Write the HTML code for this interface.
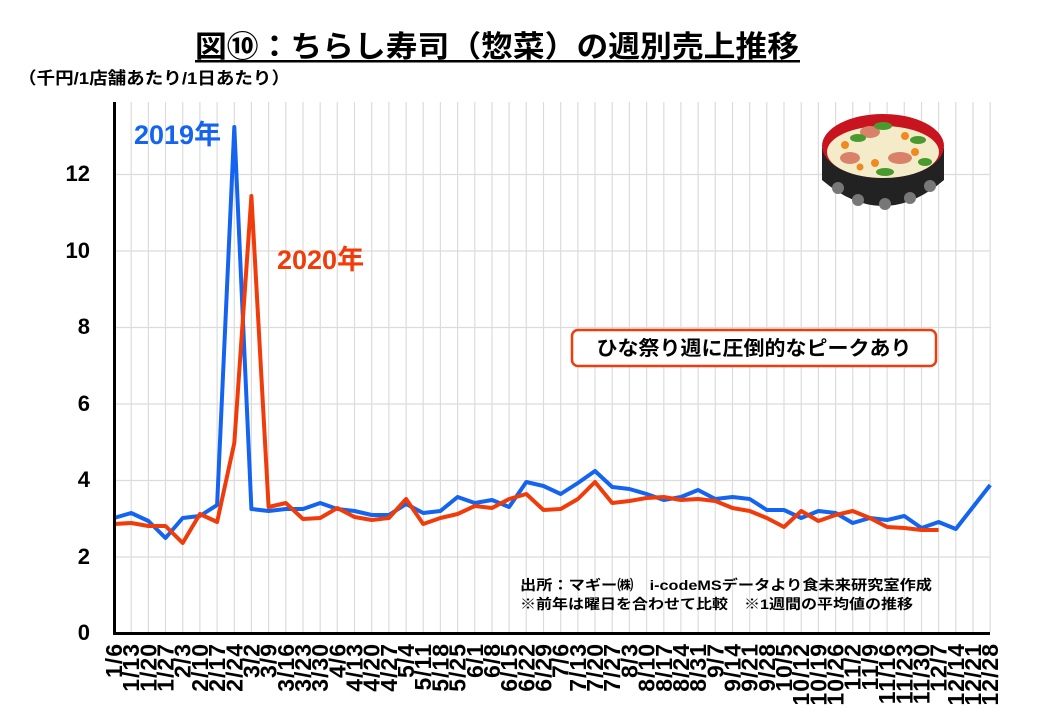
<!DOCTYPE html>
<html><head><meta charset="utf-8"><style>
body{margin:0;background:#fff;}
svg{display:block;font-family:"Liberation Sans","Noto Sans CJK JP",sans-serif;}
</style></head><body>
<svg width="1040" height="720" viewBox="0 0 1040 720" xmlns="http://www.w3.org/2000/svg">
<rect width="1040" height="720" fill="#fff"/>
<text x="497" y="57" font-size="30" font-weight="bold" text-anchor="middle" textLength="604" lengthAdjust="spacingAndGlyphs">図⑩：ちらし寿司（惣菜）の週別売上推移</text>
<rect x="195" y="60" width="605" height="2.5" fill="#000"/>
<text x="18" y="84" font-size="17" font-weight="bold" textLength="272" lengthAdjust="spacingAndGlyphs">（千円/1店舗あたり/1日あたり）</text>
<g stroke="#dcdcdc" stroke-width="1.2">
<path d="M131.2 102V632M148.4 102V632M165.5 102V632M182.7 102V632M199.9 102V632M217.1 102V632M234.3 102V632M251.4 102V632M268.6 102V632M285.8 102V632M303 102V632M320.2 102V632M337.3 102V632M354.5 102V632M371.7 102V632M388.9 102V632M406.1 102V632M423.2 102V632M440.4 102V632M457.6 102V632M474.8 102V632M492 102V632M509.1 102V632M526.3 102V632M543.5 102V632M560.7 102V632M577.9 102V632M595 102V632M612.2 102V632M629.4 102V632M646.6 102V632M663.8 102V632M680.9 102V632M698.1 102V632M715.3 102V632M732.5 102V632M749.7 102V632M766.8 102V632M784 102V632M801.2 102V632M818.4 102V632M835.6 102V632M852.7 102V632M869.9 102V632M887.1 102V632M904.3 102V632M921.5 102V632M938.6 102V632M955.8 102V632M973 102V632M990.2 102V632"/>
<path d="M114 174.5H990M114 251H990M114 327.5H990M114 404H990M114 480.5H990M114 557H990"/>
</g>
<g font-size="22" font-weight="bold" text-anchor="end">
<text x="90" y="640">0</text><text x="90" y="564">2</text><text x="90" y="487">4</text><text x="90" y="411">6</text><text x="90" y="334">8</text><text x="90" y="258">10</text><text x="90" y="181">12</text>
</g>
<g>
<path d="M822 148 L822 180 Q883 232 944 180 L944 148 Z" fill="#222"/>
<ellipse cx="883" cy="146" rx="61" ry="32" fill="#c8141e"/>
<ellipse cx="883" cy="152" rx="56" ry="26" fill="#f4ecc8"/>
<g fill="#f08a20"><circle cx="845" cy="145" r="4"/><circle cx="905" cy="136" r="4"/><circle cx="875" cy="163" r="4"/><circle cx="860" cy="167" r="3.5"/><circle cx="915" cy="152" r="4"/></g>
<g fill="#d9826a"><ellipse cx="870" cy="132" rx="10" ry="6"/><ellipse cx="900" cy="158" rx="12" ry="6"/><ellipse cx="850" cy="158" rx="10" ry="6"/></g>
<g fill="#4a9a30"><ellipse cx="883" cy="126" rx="9" ry="4"/><ellipse cx="858" cy="138" rx="8" ry="4"/><ellipse cx="918" cy="140" rx="8" ry="4"/><ellipse cx="885" cy="172" rx="9" ry="4"/><ellipse cx="925" cy="162" rx="7" ry="4"/></g>
<g fill="#777"><circle cx="838" cy="188" r="6"/><circle cx="858" cy="200" r="6"/><circle cx="885" cy="204" r="6"/><circle cx="910" cy="198" r="6"/><circle cx="930" cy="186" r="6"/></g>
</g>
<polyline fill="none" stroke="#1464f0" stroke-width="4" stroke-linejoin="round" points="114,518 131.2,513 148.4,521 165.5,538 182.7,518 199.9,516 217.1,505 234.3,127 251.4,509 268.6,511 285.8,509 303,509 320.2,503 337.3,509 354.5,511 371.7,515 388.9,515 406.1,504 423.2,513 440.4,511 457.6,497 474.8,503 492,500 509.1,507 526.3,482 543.5,486 560.7,494 577.9,483 595,471 612.2,487 629.4,489 646.6,494 663.8,500 680.9,497 698.1,490 715.3,499 732.5,497 749.7,499 766.8,510 784,510 801.2,518 818.4,511 835.6,513 852.7,523 869.9,518 887.1,520 904.3,516 921.5,528 938.6,522 955.8,529 973,507 990.2,485"/>
<polyline fill="none" stroke="#f03c0a" stroke-width="4" stroke-linejoin="round" points="114,524 131.2,523 148.4,526 165.5,526 182.7,543 199.9,514 217.1,522 234.3,443 251.4,196 268.6,507 285.8,503 303,519 320.2,518 337.3,508 354.5,517 371.7,520 388.9,518 406.1,499 423.2,524 440.4,518 457.6,514 474.8,506 492,508 509.1,499 526.3,494 543.5,510 560.7,509 577.9,499 595,482 612.2,503 629.4,501 646.6,498 663.8,497 680.9,500 698.1,499 715.3,501 732.5,508 749.7,511 766.8,518 784,527 801.2,511 818.4,521 835.6,515 852.7,511 869.9,518 887.1,527 904.3,528 921.5,530 938.6,530"/>
<path d="M114.5 102V633.5H990" fill="none" stroke="#000" stroke-width="3"/>
<text x="134" y="144" font-size="27" font-weight="bold" fill="#1464f0">2019年</text>
<text x="277" y="269" font-size="27" font-weight="bold" fill="#f03c0a">2020年</text>
<rect x="572" y="330" width="364" height="36" rx="6" fill="#fff" stroke="#f03c0a" stroke-width="2.5"/>
<text x="754" y="355" font-size="20" font-weight="bold" text-anchor="middle" textLength="315" lengthAdjust="spacingAndGlyphs">ひな祭り週に圧倒的なピークあり</text>
<text x="520" y="590" font-size="14" font-weight="bold" textLength="412" lengthAdjust="spacingAndGlyphs">出所：マギー㈱　i-codeMSデータより食未来研究室作成</text>
<text x="520" y="609" font-size="14" font-weight="bold" textLength="393" lengthAdjust="spacingAndGlyphs">※前年は曜日を合わせて比較　※1週間の平均値の推移</text>
<g font-size="23" font-weight="bold" text-anchor="end" letter-spacing="1">
<text transform="translate(122,643) rotate(-90)">1/6</text>
<text transform="translate(139.2,643) rotate(-90)">1/13</text>
<text transform="translate(156.4,643) rotate(-90)">1/20</text>
<text transform="translate(173.5,643) rotate(-90)">1/27</text>
<text transform="translate(190.7,643) rotate(-90)">2/3</text>
<text transform="translate(207.9,643) rotate(-90)">2/10</text>
<text transform="translate(225.1,643) rotate(-90)">2/17</text>
<text transform="translate(242.3,643) rotate(-90)">2/24</text>
<text transform="translate(259.4,643) rotate(-90)">3/2</text>
<text transform="translate(276.6,643) rotate(-90)">3/9</text>
<text transform="translate(293.8,643) rotate(-90)">3/16</text>
<text transform="translate(311,643) rotate(-90)">3/23</text>
<text transform="translate(328.2,643) rotate(-90)">3/30</text>
<text transform="translate(345.3,643) rotate(-90)">4/6</text>
<text transform="translate(362.5,643) rotate(-90)">4/13</text>
<text transform="translate(379.7,643) rotate(-90)">4/20</text>
<text transform="translate(396.9,643) rotate(-90)">4/27</text>
<text transform="translate(414.1,643) rotate(-90)">5/4</text>
<text transform="translate(431.2,643) rotate(-90)">5/11</text>
<text transform="translate(448.4,643) rotate(-90)">5/18</text>
<text transform="translate(465.6,643) rotate(-90)">5/25</text>
<text transform="translate(482.8,643) rotate(-90)">6/1</text>
<text transform="translate(500,643) rotate(-90)">6/8</text>
<text transform="translate(517.1,643) rotate(-90)">6/15</text>
<text transform="translate(534.3,643) rotate(-90)">6/22</text>
<text transform="translate(551.5,643) rotate(-90)">6/29</text>
<text transform="translate(568.7,643) rotate(-90)">7/6</text>
<text transform="translate(585.9,643) rotate(-90)">7/13</text>
<text transform="translate(603,643) rotate(-90)">7/20</text>
<text transform="translate(620.2,643) rotate(-90)">7/27</text>
<text transform="translate(637.4,643) rotate(-90)">8/3</text>
<text transform="translate(654.6,643) rotate(-90)">8/10</text>
<text transform="translate(671.8,643) rotate(-90)">8/17</text>
<text transform="translate(688.9,643) rotate(-90)">8/24</text>
<text transform="translate(706.1,643) rotate(-90)">8/31</text>
<text transform="translate(723.3,643) rotate(-90)">9/7</text>
<text transform="translate(740.5,643) rotate(-90)">9/14</text>
<text transform="translate(757.7,643) rotate(-90)">9/21</text>
<text transform="translate(774.8,643) rotate(-90)">9/28</text>
<text transform="translate(792,643) rotate(-90)">10/5</text>
<text transform="translate(809.2,643) rotate(-90)">10/12</text>
<text transform="translate(826.4,643) rotate(-90)">10/19</text>
<text transform="translate(843.6,643) rotate(-90)">10/26</text>
<text transform="translate(860.7,643) rotate(-90)">11/2</text>
<text transform="translate(877.9,643) rotate(-90)">11/9</text>
<text transform="translate(895.1,643) rotate(-90)">11/16</text>
<text transform="translate(912.3,643) rotate(-90)">11/23</text>
<text transform="translate(929.5,643) rotate(-90)">11/30</text>
<text transform="translate(946.6,643) rotate(-90)">12/7</text>
<text transform="translate(963.8,643) rotate(-90)">12/14</text>
<text transform="translate(981,643) rotate(-90)">12/21</text>
<text transform="translate(998.2,643) rotate(-90)">12/28</text>
</g>
</svg>
</body></html>
